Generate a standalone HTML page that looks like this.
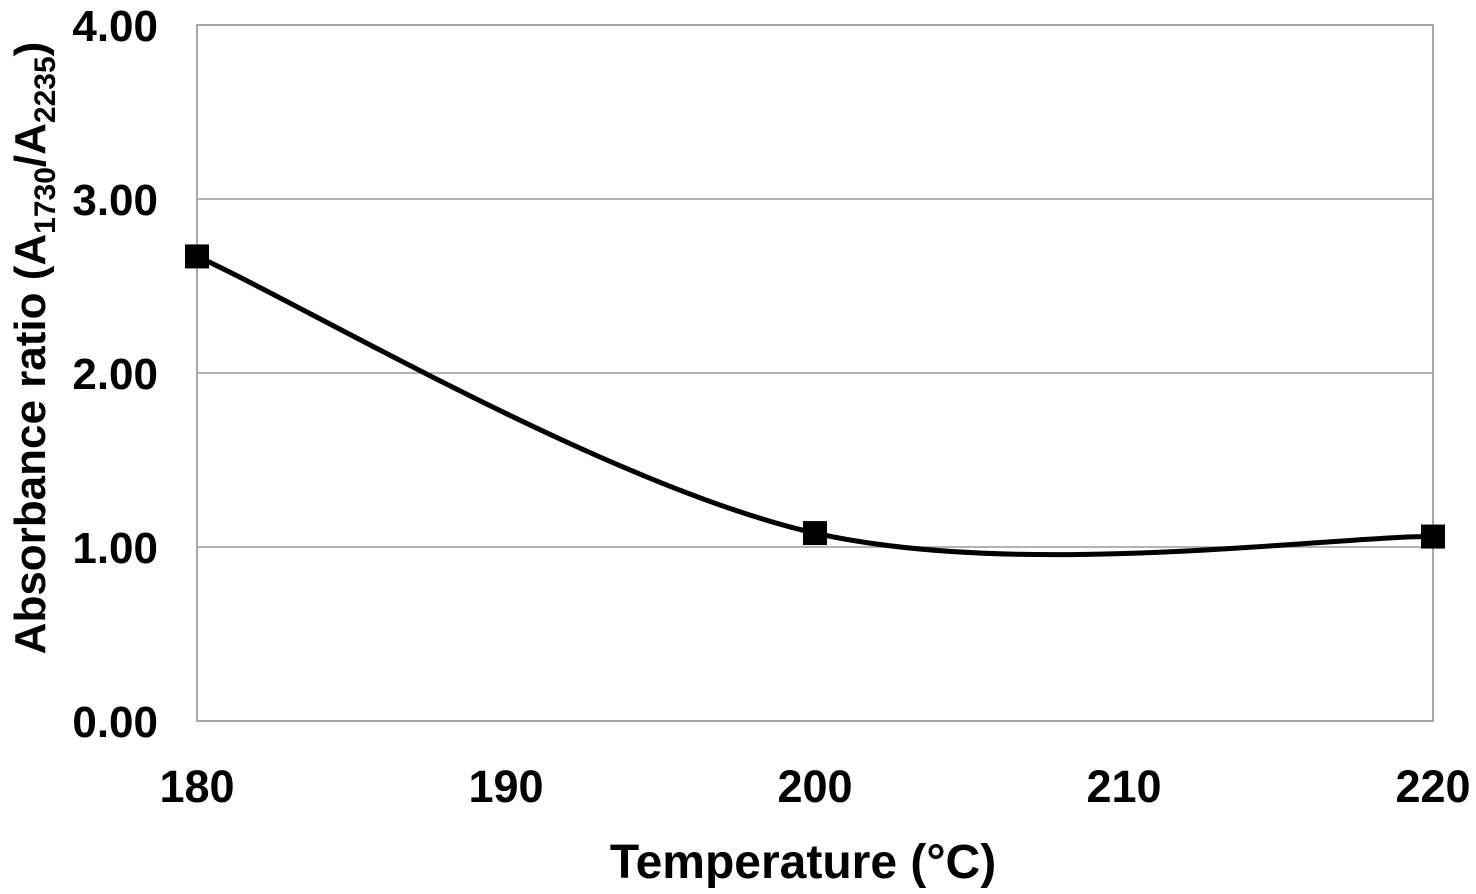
<!DOCTYPE html>
<html><head><meta charset="utf-8"><style>
html,body{margin:0;padding:0;background:#fff;}
svg{display:block;font-family:"Liberation Sans",sans-serif;font-weight:bold;}
</style></head><body>
<svg id="chart" width="1476" height="894" viewBox="0 0 1476 894"></svg>
<script>
const categories = [180, 200, 220];
const seriesValues = [2.67, 1.08, 1.06];
const yTicks = [0, 1, 2, 3, 4];
const yTickLabels = ["0.00", "1.00", "2.00", "3.00", "4.00"];
const xTicks = [180, 190, 200, 210, 220];
const xTickLabels = ["180", "190", "200", "210", "220"];

const L = 197, R = 1433, T = 25, B = 721;
const xS = v => L + (v - 180) / 40 * (R - L);
const yS = v => B - v / 4 * (B - T);
const svg = document.getElementById('chart');
const NS = 'http://www.w3.org/2000/svg';
function mk(tag, attrs, parent) {
  const e = document.createElementNS(NS, tag);
  for (const k in attrs) e.setAttribute(k, attrs[k]);
  (parent || svg).appendChild(e);
  return e;
}
const plot = mk('rect', {x: L, y: T, width: R - L, height: B - T, fill: '#fff', stroke: '#8c8c8c', 'stroke-width': 1.5});


yTicks.forEach((v, i) => {
  if (v > 0 && v < 4) {
    const g = mk('line', {x1: L, x2: R, y1: yS(v), y2: yS(v), stroke: '#9a9a9a', 'stroke-width': 1.5});
    
    
  }
  const t = mk('text', {x: 158, y: yS(v) + 16, 'font-size': 44, 'text-anchor': 'end', fill: '#000'});
  t.textContent = yTickLabels[i];
  
  
});
xTicks.forEach((v, i) => {
  const t = mk('text', {x: xS(v), y: 802, 'font-size': 45, 'text-anchor': 'middle', fill: '#000'});
  t.textContent = xTickLabels[i];
  
  
});
const pts = categories.map((c, i) => [xS(c), yS(seriesValues[i])]);
let d = `M${pts[0][0]},${pts[0][1]}`;
const k = 1 / 6;
for (let i = 0; i < pts.length - 1; i++) {
  const p0 = pts[Math.max(0, i - 1)], p1 = pts[i], p2 = pts[i + 1], p3 = pts[Math.min(pts.length - 1, i + 2)];
  const c1 = [p1[0] + (p2[0] - p0[0]) * k, p1[1] + (p2[1] - p0[1]) * k];
  const c2 = [p2[0] - (p3[0] - p1[0]) * k, p2[1] - (p3[1] - p1[1]) * k];
  d += ` C${c1[0]},${c1[1]} ${c2[0]},${c2[1]} ${p2[0]},${p2[1]}`;
}
const line = mk('path', {d: d, fill: 'none', stroke: '#000', 'stroke-width': 5});


pts.forEach(p => {
  const m = mk('rect', {x: p[0] - 12, y: p[1] - 12, width: 24, height: 24, fill: '#000'});
  
  
});
const xt = mk('text', {x: 803, y: 878, 'font-size': 48, 'text-anchor': 'middle', fill: '#000'});
xt.textContent = 'Temperature (°C)';


const yt = mk('text', {x: 0, y: 0, 'font-size': 44, 'text-anchor': 'middle', fill: '#000', transform: 'translate(45,348) rotate(-90)'});


yt.innerHTML = 'Absorbance ratio (A<tspan font-size="30" dy="10">1730</tspan><tspan dy="-10">/A</tspan><tspan font-size="30" dy="10">2235</tspan><tspan dy="-10">)</tspan>';
</script>
</body></html>
